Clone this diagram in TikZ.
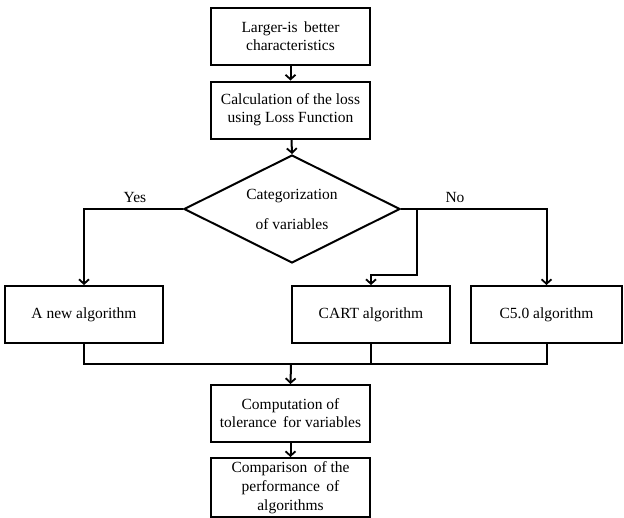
\documentclass[tikz,border=0pt]{standalone}
\usepackage{fontspec}
\setmainfont{Liberation Serif}
\usetikzlibrary{arrows.meta,shapes.geometric}
\begin{document}
\begin{tikzpicture}[x=1pt,y=-1pt,
  line width=2pt,
  box/.style={draw,rectangle,minimum width=159pt,minimum height=57pt,inner sep=0pt,align=center,font=\fontsize{15.5}{18}\selectfont},
  wbox/.style={box,minimum width=158pt},
  dec/.style={draw,diamond,shape aspect=2,minimum width=216pt,minimum height=108pt,inner sep=0pt,align=center,font=\fontsize{15.5}{30}\selectfont},
  arr/.style={-{Straight Barb[length=4.5pt,width=10pt,line width=1.8pt]}},
  lbl/.style={font=\fontsize{15.5}{18}\selectfont,inner sep=0pt}]
\useasboundingbox (0,0) rectangle (624,517);
\node[box] (b1) at (290.5,36.5) {Larger-is\, better\\characteristics};
\node[box] (b2) at (290.5,110) {Calculation of the loss\\using Loss Function};
\node[dec] (d) at (292,209) {Categorization\\of variables};
\node[wbox] (a) at (84,314.5) {A new algorithm};
\node[wbox] (cart) at (371,314.5) {CART algorithm};
\node[box,minimum width=151pt] (c5) at (546.5,314.5) {C5.0 algorithm};
\node[box] (comp) at (290.5,413.5) {Computation of\\tolerance\, for variables};
\node[box,minimum height=59pt,font=\fontsize{15.5}{19}\selectfont] (cmp) at (290.5,487.5) {Comparison\, of the\\performance\, of\\algorithms};
\coordinate (br) at (417,209);
\coordinate (bk) at (417,275);
\coordinate (m) at (291,364);
\draw[arr] (b1) -- (b2);
\draw[arr] (b2) -- (d.north);
\draw[arr] (d.west) -| (a.north);
\draw[arr] (d.east) -| (c5.north);
\draw[arr] (br) -- (bk) -| (cart.north);
\draw (a.south) |- (c5.south |- m) -- (c5.south);
\draw (cart.south) -- (cart.south |- m);
\draw[arr] (m) -- (comp.north);
\draw[arr] (comp) -- (cmp);
\node[lbl] (yes) at (135,197) {Yes};
\node[lbl] (no) at (455,197) {No};
\end{tikzpicture}
\end{document}
